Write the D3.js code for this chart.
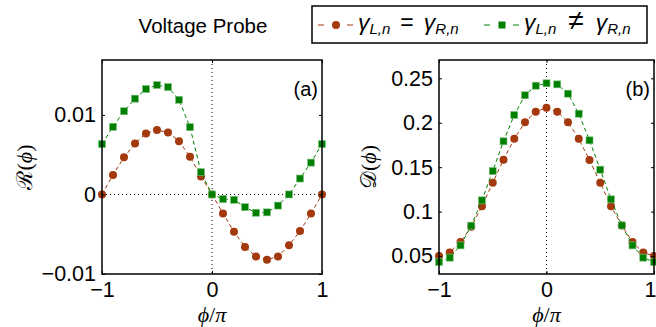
<!DOCTYPE html>
<html><head><meta charset="utf-8">
<script src="https://cdn.jsdelivr.net/npm/d3@7"></script>
<style>
body{margin:0;background:#fff;}
svg{display:block;}
text{font-family:"Liberation Sans",Arial,sans-serif;}
.math{font-family:"Liberation Serif","DejaVu Serif",serif;}
</style>
</head><body>
<svg id="chart" width="656" height="327"></svg>
<script>
const phi = [-1,-0.9,-0.8,-0.7,-0.6,-0.5,-0.4,-0.3,-0.2,-0.1,0,0.1,0.2,0.3,0.4,0.5,0.6,0.7,0.8,0.9,1];
const R_equal = [0,0.00246,0.00466,0.0064,0.00767,0.0081,0.0078,0.0067,0.00475,0.00225,0,-0.0024,-0.0047,-0.0066,-0.0078,-0.0082,-0.0078,-0.0064,-0.0046,-0.0024,0];
const R_unequal = [0.00633,0.0085,0.01046,0.01204,0.01325,0.01375,0.0135,0.0119,0.00846,0.0028,0,-0.00058,-0.00067,-0.0016,-0.0023,-0.00225,-0.0014,0,0.002,0.004,0.00633];
const D_equal = [0.05,0.0541,0.0658,0.083,0.106,0.1325,0.1584,0.182,0.2005,0.2125,0.217,0.2125,0.2005,0.182,0.158,0.1325,0.106,0.0845,0.0658,0.054,0.05];
const D_unequal = [0.0433,0.0482,0.062,0.0842,0.1127,0.1457,0.1791,0.2087,0.2309,0.2417,0.2444,0.2432,0.2327,0.2102,0.1802,0.1472,0.1138,0.0845,0.062,0.0482,0.0433];
const xTicks = [-1,0,1];
const xTickLabels = ["\u22121","0","1"];
const rTicks = [-0.01,0,0.01];
const rTickLabels = ["\u22120.01","0","0.01"];
const dTicks = [0.05,0.1,0.15,0.2,0.25];
const dTickLabels = ["0.05","0.1","0.15","0.2","0.25"];
const colors = {equal:"#a3390d", unequal:"#008000"};

const svg = d3.select("#chart");

function panel(opts){
  const {x0,x1,y0,y1,ydom,yTicks,yTickLabels,eqData,neqData,tag,ylabelLetter,ylabelX,hzero,lastEnd} = opts;
  const x = d3.scaleLinear().domain([-1,1]).range([x0,x1]);
  const y = d3.scaleLinear().domain(ydom).range([y1,y0]);
  const g = svg.append("g");
  g.append("line").attr("x1",x(0)).attr("x2",x(0)).attr("y1",y0).attr("y2",y1)
    .attr("stroke","#000").attr("stroke-width",1).attr("stroke-dasharray","1,3");
  if(hzero){
    g.append("line").attr("x1",x0).attr("x2",x1).attr("y1",y(0)).attr("y2",y(0))
      .attr("stroke","#000").attr("stroke-width",1).attr("stroke-dasharray","1,3");
  }
  const line = d3.line().x((d,i)=>x(phi[i])).y(d=>y(d));
  const sets = [["equal",eqData],["unequal",neqData]];
  sets.forEach(([name,data])=>{
    g.append("path").datum(data).attr("d",line).attr("fill","none")
      .attr("stroke",colors[name]).attr("stroke-width",1).attr("stroke-dasharray","4,3");
    if(name==="equal"){
      g.selectAll(null).data(data).enter().append("circle")
        .attr("cx",(d,i)=>x(phi[i])).attr("cy",d=>y(d)).attr("r",4)
        .attr("fill",colors[name]);
    } else {
      g.selectAll(null).data(data).enter().append("rect")
        .attr("x",(d,i)=>x(phi[i])-3.5).attr("y",d=>y(d)-3.5).attr("width",7).attr("height",7)
        .attr("fill",colors[name]).attr("stroke","#7fc07f").attr("stroke-width",0.6);
    }
  });
  const bottom = d3.axisBottom(x).tickValues(xTicks).tickSize(-3).tickPadding(8)
    .tickFormat((d,i)=>xTickLabels[i]);
  const gb = g.append("g").attr("transform",`translate(0,${y1})`).call(bottom);
  const top = d3.axisTop(x).tickValues(xTicks).tickSize(-3).tickFormat("");
  const gt = g.append("g").attr("transform",`translate(0,${y0})`).call(top);
  const left = d3.axisLeft(y).tickValues(yTicks).tickSize(-3).tickPadding(6)
    .tickFormat((d,i)=>yTickLabels[i]);
  const gl = g.append("g").attr("transform",`translate(${x0},0)`).call(left);
  const right = d3.axisRight(y).tickValues(yTicks).tickSize(-3).tickFormat("");
  const gr = g.append("g").attr("transform",`translate(${x1},0)`).call(right);
  [gb,gt,gl,gr].forEach(a=>{
    a.select(".domain").remove();
    a.selectAll(".tick line").attr("stroke","#000").attr("stroke-width",1);
    a.selectAll("text").attr("font-size",21.5).attr("fill","#000")
      .attr("font-family","Liberation Sans, Arial, sans-serif");
  });
  gb.selectAll("text").attr("dy","0.71em");
  if(lastEnd){
    gb.selectAll(".tick text").filter(d=>d===1).attr("text-anchor","end").attr("x",2);
  }
  g.append("rect").attr("x",x0).attr("y",y0).attr("width",x1-x0).attr("height",y1-y0)
    .attr("fill","none").attr("stroke","#000").attr("stroke-width",1.5);
  g.append("text").attr("x",x1-4).attr("y",y0+36).attr("text-anchor","end")
    .attr("font-size",20).text(tag);
  const xl = g.append("text").attr("class","math").attr("x",(x0+x1)/2).attr("y",322)
    .attr("text-anchor","middle").attr("font-size",22);
  xl.append("tspan").attr("font-style","italic").text("\u03d5");
  xl.append("tspan").text("/");
  xl.append("tspan").attr("font-style","italic").text("\u03c0");
  const yl = g.append("text").attr("class","math").attr("transform",`translate(${ylabelX},${(y0+y1)/2}) rotate(-90)`)
    .attr("text-anchor","middle").attr("font-size",22);
  yl.append("tspan").text(ylabelLetter);
  yl.append("tspan").text("(");
  yl.append("tspan").attr("font-style","italic").text("\u03d5");
  yl.append("tspan").text(")");
}

panel({x0:102,x1:322,y0:60,y1:274,ydom:[-0.01,0.0169],yTicks:rTicks,yTickLabels:rTickLabels,
  eqData:R_equal,neqData:R_unequal,tag:"(a)",ylabelLetter:"\u211b",ylabelX:32,hzero:true});
panel({x0:439,x1:654,y0:60,y1:274,ydom:[0.0298,0.2706],yTicks:dTicks,yTickLabels:dTickLabels,
  eqData:D_equal,neqData:D_unequal,tag:"(b)",ylabelLetter:"\ud835\udc9f",ylabelX:376,hzero:false,lastEnd:true});

svg.append("text").attr("x",203).attr("y",33).attr("text-anchor","middle")
  .attr("font-size",20.5).text("Voltage Probe");

const lg = svg.append("g");
lg.append("rect").attr("x",312).attr("y",6).attr("width",335).attr("height",37)
  .attr("fill","#fff").attr("stroke","#000").attr("stroke-width",1.5);
function legendItem(x, name, rel, gap, relSize){
  lg.append("line").attr("x1",x).attr("x2",x+35).attr("y1",25).attr("y2",25)
    .attr("stroke",colors[name]).attr("stroke-width",1).attr("stroke-dasharray","6,23");
  if(name==="equal") lg.append("circle").attr("cx",x+18).attr("cy",25).attr("r",4).attr("fill",colors[name]);
  else lg.append("rect").attr("x",x+18-3.5).attr("y",25-3.5).attr("width",7).attr("height",7).attr("fill",colors[name]);
  const t = lg.append("text").attr("x",x+40).attr("y",30).attr("font-size",23)
    .attr("font-family","Liberation Serif, DejaVu Serif, serif");
  t.append("tspan").attr("font-style","italic").text("\u03b3");
  t.append("tspan").attr("font-style","italic").attr("font-size",15).attr("dy",4).text("L,n");
  t.append("tspan").attr("dy",-4).attr("dx",gap).attr("font-size",relSize).text(rel);
  t.append("tspan").attr("font-style","italic").attr("dx",gap).text("\u03b3");
  t.append("tspan").attr("font-style","italic").attr("font-size",15).attr("dy",4).text("R,n");
}
legendItem(318,"equal","=",10,23);
legendItem(484,"unequal","\u2260",12,28);
</script>
</body></html>
